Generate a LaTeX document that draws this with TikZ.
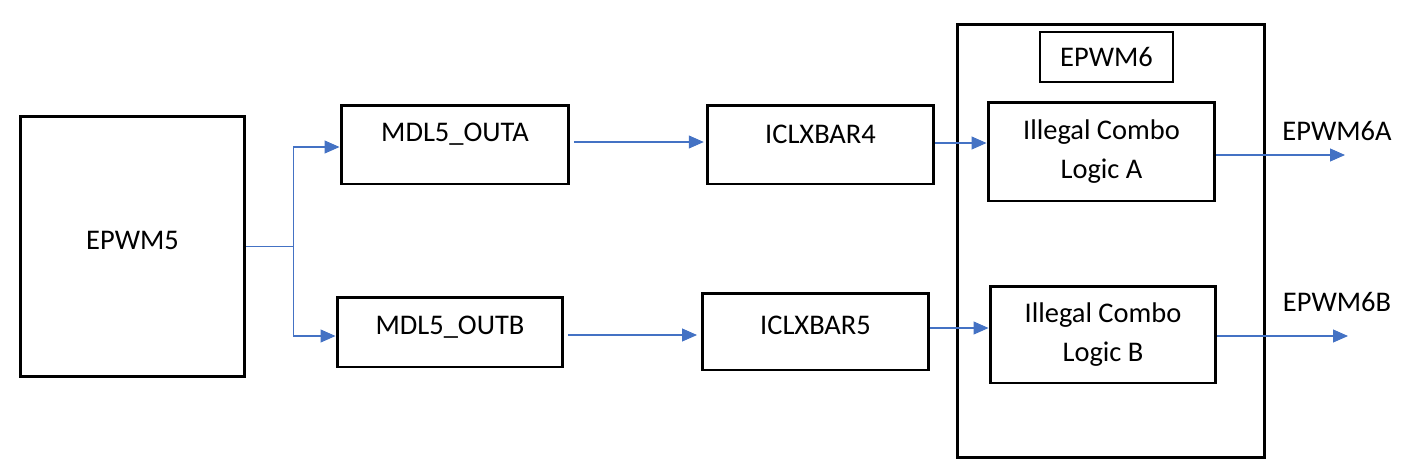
\documentclass[tikz,border=0pt]{standalone}
\usepackage{fontspec}
\setmainfont{Carlito}
\usepackage{xcolor}
\usetikzlibrary{arrows.meta}

\definecolor{wireblue}{HTML}{4472C4}

\tikzset{
  box/.style={draw, line width=1.7pt, inner sep=0pt},
  txt/.style={inner sep=0pt, align=center, font=\fontsize{16.2}{22}\selectfont},
  wire/.style={wireblue, line width=0.6pt, -{Triangle[length=0.3cm,width=0.26cm]}}
}

\begin{document}
\begin{tikzpicture}[x=0.02cm,y=-0.02cm]
    \useasboundingbox (0,0) rectangle (1420,464);
    % source block
    \node[box, minimum width=4.5cm, minimum height=5.22cm] (epwm5) at (132.5,246.5) {};
    \node[txt] (epwm5-t) at (132.5,240) {EPWM5};
    % module outputs
    \node[box, minimum width=4.56cm, minimum height=1.58cm] (outa) at (455,144.5) {};
    \node[txt] (outa-t) at (455,134) {MDL5\_OUTA};
    \node[box, minimum width=4.52cm, minimum height=1.40cm] (outb) at (450,332) {};
    \node[txt] (outb-t) at (450,327) {MDL5\_OUTB};
    % crossbars
    \node[box, minimum width=4.54cm, minimum height=1.58cm] (xbar4) at (820.5,144.5) {};
    \node[txt] (xbar4-t) at (820.5,134) {ICLXBAR4};
    \node[box, minimum width=4.54cm, minimum height=1.54cm] (xbar5) at (815.5,331.5) {};
    \node[txt] (xbar5-t) at (815.5,325) {ICLXBAR5};
    % EPWM6 with combo logic
    \node[box, minimum width=6.16cm, minimum height=8.68cm] (epwm6) at (1111,241) {};
    \node[draw, line width=1.1pt, txt, minimum width=2.66cm, minimum height=1.0cm] (epwm6-t) at (1106.5,57) {EPWM6};
    \node[box, txt, minimum width=4.54cm, minimum height=1.98cm] (logica) at (1101.5,151.5) {Illegal Combo\\Logic A};
    \node[box, txt, minimum width=4.52cm, minimum height=1.94cm] (logicb) at (1103,334.5) {Illegal Combo\\Logic B};
    \node[txt] (epwm6a) at (1337,131) {EPWM6A};
    \node[txt] (epwm6b) at (1337,302) {EPWM6B};
    \coordinate (enda) at (1345,155);
    \coordinate (endb) at (1348,336);

    \draw[wire] (epwm5.east) -- ++(47,0) coordinate (split) |- ([yshift=-0.05cm]outa.west);
    \draw[wire] (split) |- ([yshift=-0.08cm]outb.west);
    \draw[wire, shorten <=2pt, shorten >=1pt] ([yshift=0.05cm]outa.east) -- ([yshift=0.05cm]outa.east -| xbar4.west);
    \draw[wire, shorten <=2pt, shorten >=2pt] ([yshift=-0.06cm]outb.east) -- ([yshift=-0.06cm]outb.east -| xbar5.west);
    \draw[wire] ([yshift=0.03cm]xbar4.east) -- ([yshift=0.03cm]xbar4.east -| logica.west);
    \draw[wire] ([yshift=0.07cm]xbar5.east) -- ([yshift=0.07cm]xbar5.east -| logicb.west);
    \draw[wire] (logica.east |- enda) -- (enda);
    \draw[wire] (logicb.east |- endb) -- (endb);
  \end{tikzpicture}
\end{document}
